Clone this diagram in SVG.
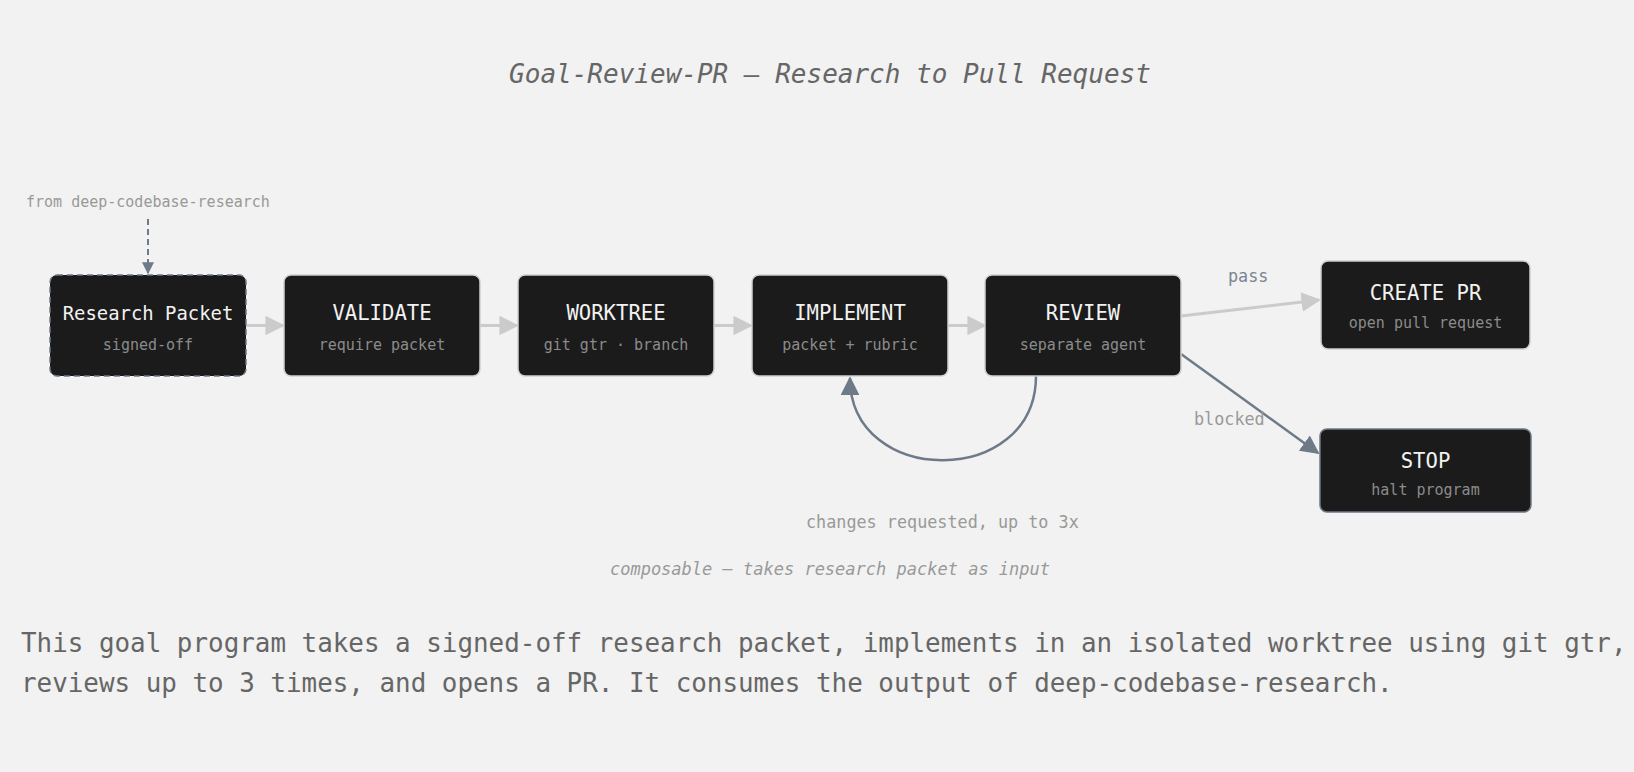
<svg xmlns="http://www.w3.org/2000/svg" width="1634" height="772" viewBox="0 0 1634 772">
<style>
text{font-family:"DejaVu Sans Mono","Liberation Mono",monospace}
.box{fill:#1b1b1b;stroke:#cfcfcf;stroke-width:1.5}
.t{fill:#f2f2f2;font-size:20.6px;text-anchor:middle}
.s{fill:#8b8b8b;font-size:15px;text-anchor:middle}
.lbl{fill:#999;font-size:16.8px}
.flow{stroke:#cbcbcb;stroke-width:3;fill:none}
.slate{stroke:#6e7a87;stroke-width:2.5;fill:none}
</style>
<defs>
<marker id="ag" viewBox="0 0 10 10" refX="9" refY="5" markerWidth="6.5" markerHeight="6.5" markerUnits="strokeWidth" orient="auto"><path d="M0,0 L10,5 L0,10 z" fill="#cbcbcb"/></marker>
<marker id="as" viewBox="0 0 10 10" refX="9" refY="5" markerWidth="7.5" markerHeight="7.5" markerUnits="strokeWidth" orient="auto"><path d="M0,0 L10,5 L0,10 z" fill="#6e7a87"/></marker>
<marker id="ad" viewBox="0 0 10 10" refX="9" refY="5" markerWidth="6" markerHeight="6" markerUnits="strokeWidth" orient="auto"><path d="M0,0 L10,5 L0,10 z" fill="#6e7a87"/></marker>
</defs>
<rect width="1634" height="772" fill="#f1f2f1"/>
<text x="830" y="83" font-size="26" font-style="italic" fill="#666" text-anchor="middle">Goal-Review-PR — Research to Pull Request</text>

<g id="connectors">
<line x1="148" y1="219" x2="148" y2="273" stroke="#6e7a87" stroke-width="2" stroke-dasharray="6,4" marker-end="url(#ad)"/>
<line class="flow" x1="246" y1="325.5" x2="283" y2="325.5" marker-end="url(#ag)"/>
<line class="flow" x1="480" y1="325.5" x2="517" y2="325.5" marker-end="url(#ag)"/>
<line class="flow" x1="714" y1="325.5" x2="751" y2="325.5" marker-end="url(#ag)"/>
<line class="flow" x1="948" y1="325.5" x2="985" y2="325.5" marker-end="url(#ag)"/>
<line class="flow" x1="1181" y1="316" x2="1319" y2="300" marker-end="url(#ag)"/>
<line class="slate" x1="1181" y1="354" x2="1318" y2="453" marker-end="url(#as)"/>
<path class="slate" d="M1036,376 C1036,488 850,488 850,378" marker-end="url(#as)"/>
<text class="lbl" x="1228" y="282" style="fill:#7a8593">pass</text>
<text class="lbl" x="1194" y="425">blocked</text>
<text class="lbl" x="806" y="528">changes requested, up to 3x</text>
</g>

<text x="26" y="207" fill="#999" font-size="15">from deep-codebase-research</text>

<g id="research-packet">
<rect x="50" y="275" width="196" height="101" rx="7" fill="#1b1b1b" stroke="#6e7a87" stroke-width="1.5" stroke-dasharray="6,4"/>
<text class="t" x="148" y="320" style="font-size:18.9px">Research Packet</text>
<text class="s" x="148" y="350">signed-off</text>
</g>
<g id="validate">
<rect class="box" x="284" y="275" width="196" height="101" rx="7"/>
<text class="t" x="382" y="320">VALIDATE</text>
<text class="s" x="382" y="350">require packet</text>
</g>
<g id="worktree">
<rect class="box" x="518" y="275" width="196" height="101" rx="7"/>
<text class="t" x="616" y="320">WORKTREE</text>
<text class="s" x="616" y="350">git gtr · branch</text>
</g>
<g id="implement">
<rect class="box" x="752" y="275" width="196" height="101" rx="7"/>
<text class="t" x="850" y="320">IMPLEMENT</text>
<text class="s" x="850" y="350">packet + rubric</text>
</g>
<g id="review">
<rect class="box" x="985" y="275" width="196" height="101" rx="7"/>
<text class="t" x="1083" y="320">REVIEW</text>
<text class="s" x="1083" y="350">separate agent</text>
</g>
<g id="create-pr">
<rect class="box" x="1321" y="261" width="209" height="88" rx="7"/>
<text class="t" x="1425.5" y="300">CREATE PR</text>
<text class="s" x="1425.5" y="328">open pull request</text>
</g>
<g id="stop">
<rect x="1320" y="429" width="211" height="83" rx="7" fill="#1b1b1b" stroke="#6e7a87" stroke-width="1.5"/>
<text class="t" x="1425.5" y="468">STOP</text>
<text class="s" x="1425.5" y="495">halt program</text>
</g>

<text x="830" y="575" font-size="17" font-style="italic" fill="#999" text-anchor="middle">composable — takes research packet as input</text>
<text font-size="25.9" fill="#666"><tspan x="21" y="652">This goal program takes a signed-off research packet, implements in an isolated worktree using git gtr,</tspan><tspan x="21" y="692">reviews up to 3 times, and opens a PR. It consumes the output of deep-codebase-research.</tspan></text>
</svg>
